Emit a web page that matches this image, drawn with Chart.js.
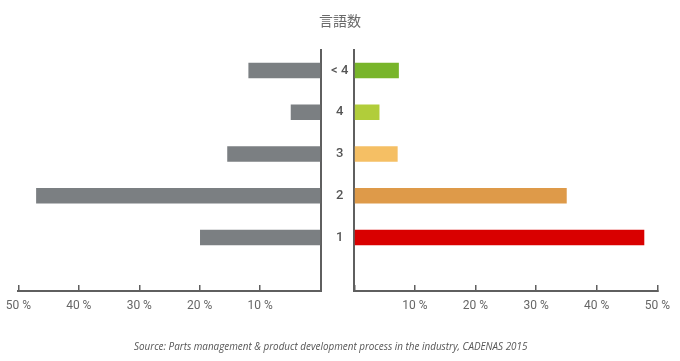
<!DOCTYPE html>
<html>
<head>
<meta charset="utf-8">
<script src="https://cdn.jsdelivr.net/npm/chart.js@4"></script>
<style>
  html,body{margin:0;padding:0;background:#fff;}
  #wrap{position:relative;width:680px;height:361px;overflow:hidden;}
  canvas{position:absolute;left:0;top:0;}
  #title{position:absolute;left:0;width:680px;top:10px;text-align:center;font-family:"Noto Sans CJK JP",sans-serif;font-size:14px;color:#6a6a6a;line-height:20px;}
  #source{position:absolute;left:134px;top:338px;font-family:"Open Sans",sans-serif;font-style:italic;font-size:9.9px;color:#555;white-space:nowrap;line-height:16px;}
</style>
</head>
<body>
<div id="wrap">
  <canvas id="left" width="680" height="361"></canvas>
  <canvas id="right" width="680" height="361"></canvas>
  <div id="title">言語数</div>
  <div id="source">Source: Parts management &amp; product development process in the industry, CADENAS 2015</div>
</div>
<script>
const categories = ['< 4', '4', '3', '2', '1'];
const leftValues = [11.9, 4.9, 15.4, 47.0, 19.9];
const rightValues = [7.3, 4.1, 7.1, 35.0, 47.8];
const rightColors = ['#78b52a', '#b1cd3a', '#f5bf64', '#de9a49', '#d90000'];
const leftColor = '#7b7f82';
const xTicks = [0, 10, 20, 30, 40, 50];

const axisColor = '#5f5f5f';
const tickFont = {family: 'Roboto', size: 12};
const tickColor = '#666';

function pts(vals){ return vals.map((v,i)=>({x:v, y:i})); }

function xScale(reverse){
  return {
    type: 'linear', position: 'bottom', reverse: reverse, min: 0, max: 50,
    afterBuildTicks: s => { s.ticks = xTicks.map(v=>({value:v})); },
    ticks: {callback: v => v === 0 ? '' : v + ' %', font: tickFont, color: tickColor, padding: 14, maxRotation: 0, autoSkip: false},
    grid: {drawOnChartArea: false, tickLength: -6, color: axisColor, lineWidth: 1.5},
    border: {display: true, color: axisColor, width: 2},
    afterFit: s => { s.height = 70; s.paddingLeft = 0; s.paddingRight = 0; }
  };
}
function yScale(position, showLabels){
  return {
    type: 'linear', position: position, reverse: true, min: -0.49, max: 5.28, offset: false,
    afterBuildTicks: s => { s.ticks = categories.map((c,i)=>({value:i})); },
    ticks: {display: showLabels, callback: v => categories[v], crossAlign: 'center', padding: 6,
            font: {family: 'Roboto', size: 13, weight: '500'}, color: '#555'},
    grid: {display: false, drawTicks: false, offset: false},
    border: {display: true, color: axisColor, width: 2},
    afterFit: s => { s.width = showLabels ? 33.6 : 0; s.paddingTop = 0; s.paddingBottom = 0; }
  };
}

const common = {
  responsive: false, animation: false, indexAxis: 'y',
  plugins: {legend: {display: false}, tooltip: {enabled: false}, title: {display: false}},
};

new Chart(document.getElementById('left'), {
  type: 'bar',
  data: {datasets: [{data: pts(leftValues), backgroundColor: leftColor, barThickness: 15}]},
  options: Object.assign({}, common, {
    layout: {padding: {left: 18.3, right: 359.3, top: 50, bottom: 0}},
    scales: {x: xScale(true), y: yScale('right', false)}
  })
});

new Chart(document.getElementById('right'), {
  type: 'bar',
  data: {datasets: [{data: pts(rightValues), backgroundColor: rightColors, barThickness: 15}]},
  options: Object.assign({}, common, {
    layout: {padding: {left: 320.7, right: 22.7, top: 50, bottom: 0}},
    scales: {x: xScale(false), y: yScale('left', true)}
  })
});
</script>
</body>
</html>
